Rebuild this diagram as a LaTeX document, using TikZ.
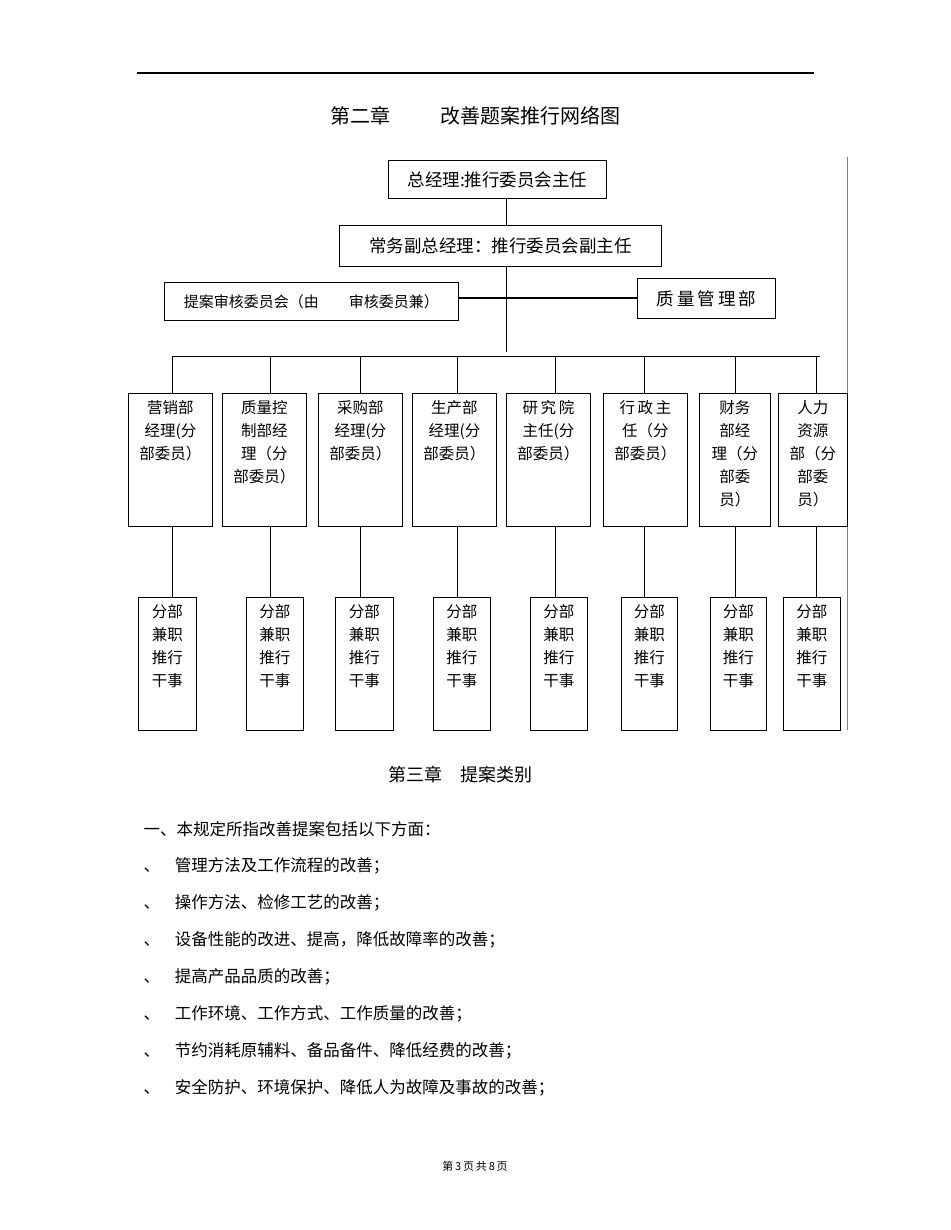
\documentclass[tikz,border=0pt]{standalone}
\usepackage{fontspec}
\setmainfont{Liberation Serif}
\newfontfamily\cjk{Noto Sans CJK SC}
\begin{document}
\begin{tikzpicture}[x=1pt,y=-1pt,
  bx/.style={draw,line width=0.9pt,inner sep=0pt},
  tx/.style={font=\cjk\fontsize{15.5}{23}\selectfont,align=center,anchor=north},
  ln/.style={line width=0.7pt}]
\useasboundingbox (0,0) rectangle (950,1230);
\draw[line width=1.2pt] (137,73) -- (814,73);
\node[font=\cjk\fontsize{20}{22}\selectfont] (t1) at (475,116) {第二章\hspace{2.5em}改善题案推行网络图};
\node[bx,minimum width=218,minimum height=38,anchor=north west,font=\cjk\fontsize{17.5}{20}\selectfont] (gm) at (388,160) {总经理:推行委员会主任};
\node[bx,minimum width=322,minimum height=41,anchor=north west,font=\cjk\fontsize{17.5}{20}\selectfont] (vgm) at (339,225) {常务副总经理：推行委员会副主任};
\node[bx,minimum width=294,minimum height=38,anchor=north west,font=\cjk\fontsize{15}{18}\selectfont] (rev) at (164,282) {提案审核委员会（由\hspace{2em}审核委员兼）};
\node[bx,minimum width=138,minimum height=40,anchor=north west,font=\cjk\fontsize{17.5}{20}\selectfont] (qm) at (637,278) {质\,量\,管\,理\,部};
\draw[ln] (gm.south -| 506,0) -- (vgm.north -| 506,0);
\draw[ln] (vgm.south -| 506,0) -- (506,352);
\draw[line width=2pt] (rev.east |- 0,298) -- (qm.west |- 0,298);
\draw[ln] (172,356) -- (820,356);
\draw[line width=0.5pt,gray] (847,157) -- (847,730);
\foreach \i/\l/\r/\c/\t in {
 1/128/212/172/{营销部\\经理(分\\部委员）},
 2/222/306/270/{质量控\\制部经\\理（分\\部委员）},
 3/318/402/360/{采购部\\经理(分\\部委员）},
 4/412/496/457/{生产部\\经理(分\\部委员）},
 5/506/590/555/{研\,究\,院\\主任(分\\部委员）},
 6/603/687/644/{行\,政\,主\\任（分\\部委员）},
 7/699/770/735/{财务\\部经\\理（分\\部委\\员）},
 8/778/847/816/{人力\\资源\\部（分\\部委\\员）}}{
  \node[bx,minimum width=\r-\l,minimum height=133,anchor=north west] (d\i) at (\l,393) {};
  \node[tx] (dt\i) at ([yshift=-4]d\i.north) {\t};
  \coordinate (c\i) at (\c,356);
  \draw[ln] (c\i) -- (\c,393);
}
\foreach \i/\l/\r/\c in {1/138/196/172,2/246/303/270,3/335/393/360,4/433/490/457,5/530/587/555,6/621/677/644,7/710/766/735,8/783/840/816}{
  \node[bx,minimum width=\r-\l,minimum height=133,anchor=north west] (s\i) at (\l,597) {};
  \node[tx] (st\i) at ([yshift=-4]s\i.north) {分部\\兼职\\推行\\干事};
  \draw[ln] (\c,526) -- (\c,597);
}
\node[font=\cjk\fontsize{18}{20}\selectfont] (t2) at (460,775) {第三章\hspace{1em}提案类别};
\node[font=\cjk\fontsize{16.5}{18}\selectfont,anchor=west] (l0) at (140,829) {一、本规定所指改善提案包括以下方面：};
\foreach \k/\s in {1/管理方法及工作流程的改善；,2/操作方法、检修工艺的改善；,3/设备性能的改进、提高，降低故障率的改善；,4/提高产品品质的改善；,5/工作环境、工作方式、工作质量的改善；,6/节约消耗原辅料、备品备件、降低经费的改善；,7/安全防护、环境保护、降低人为故障及事故的改善；}{
  \node[font=\cjk\fontsize{16.5}{18}\selectfont,anchor=west] (l\k) at (140,829+37*\k) {、\hspace{0.9em}\s};
}
\node[font=\cjk\fontsize{11}{13}\selectfont] (ft) at (475,1166) {第\,3\,页\,共\,8\,页};
\end{tikzpicture}
\end{document}
